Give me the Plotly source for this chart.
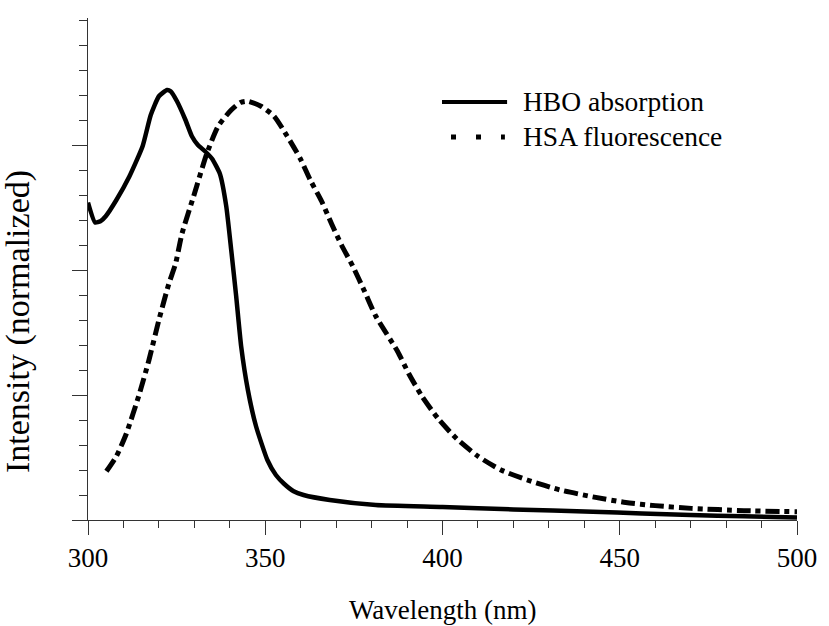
import plotly.graph_objects as go

# HBO absorption (solid)
hbo_wl = [300, 302, 303.5, 305, 308, 311.7, 315.4, 317.7, 320, 322.3, 323.3, 325.1, 327.5,
          329.3, 331, 333, 335, 337.2, 339, 340.4, 341.8, 343.2, 345.1, 347.4, 350.6, 353,
          355.3, 358, 360.8, 368.2, 381.2, 400, 420, 442.4, 456.3, 470, 485, 500]
hbo_int = [2.54, 2.38, 2.39, 2.43, 2.56, 2.75, 2.99, 3.24, 3.39, 3.44, 3.43, 3.35, 3.20,
           3.07, 3.00, 2.95, 2.89, 2.77, 2.51, 2.16, 1.79, 1.39, 1.04, 0.75, 0.48, 0.36,
           0.29, 0.23, 0.20, 0.16, 0.12, 0.105, 0.085, 0.066, 0.053, 0.04, 0.03, 0.02]

# HSA fluorescence (dash-dot)
hsa_wl = [305.2, 308, 310.8, 314.5, 317.2, 320, 322.8, 324.7, 326.5, 329.8, 333.5, 336.7,
          340.4, 343, 345.1, 348.8, 352.5, 356.2, 359.9, 362.7, 365.9, 368.7, 371.5, 374.7,
          378, 381.2, 387.3, 390.5, 394.2, 398.8, 404, 410, 416.5, 423.9, 433.2, 442.4,
          451.7, 460, 470.2, 485, 500]
hsa_int = [0.39, 0.51, 0.69, 1.01, 1.28, 1.60, 1.89, 2.05, 2.29, 2.59, 2.93, 3.15,
           3.28, 3.34, 3.35, 3.31, 3.23, 3.07, 2.89, 2.72, 2.55, 2.37, 2.20, 2.03,
           1.83, 1.63, 1.35, 1.17, 0.99, 0.81, 0.65, 0.51, 0.40, 0.32, 0.24, 0.185,
           0.14, 0.115, 0.093, 0.075, 0.066]

x_ticks = [300, 350, 400, 450, 500]
x_tick_labels = ["300", "350", "400", "450", "500"]
legend_labels = ["HBO absorption", "HSA fluorescence"]

FONT = "Times New Roman, Liberation Serif, DejaVu Serif, serif"

fig = go.Figure()
fig.add_trace(go.Scatter(x=hbo_wl, y=hbo_int, mode="lines", name=legend_labels[0],
                         line=dict(color="black", width=4.5, shape="spline", smoothing=0.5),
                         showlegend=False))
fig.add_trace(go.Scatter(x=hsa_wl, y=hsa_int, mode="lines", name=legend_labels[1],
                         line=dict(color="black", width=5, dash="14px,5px,5px,5px",
                                   shape="spline", smoothing=0.6),
                         showlegend=False))

# manual legend (paper coordinates)
fig.add_shape(type="line", xref="paper", yref="paper", x0=0.4993, x1=0.5911, y0=0.8327, y1=0.8327,
              line=dict(color="black", width=4))
fig.add_shape(type="line", xref="paper", yref="paper", x0=0.512, x1=0.588, y0=0.763, y1=0.763,
              line=dict(color="black", width=5, dash="5px,20px"))
fig.add_annotation(text=legend_labels[0], xref="paper", yref="paper", x=0.6106, y=0.8327,
                   xanchor="left", yanchor="middle", showarrow=False,
                   font=dict(family=FONT, size=27.5, color="black"))
fig.add_annotation(text=legend_labels[1], xref="paper", yref="paper", x=0.6106, y=0.763,
                   xanchor="left", yanchor="middle", showarrow=False,
                   font=dict(family=FONT, size=27.5, color="black"))

# axis titles as annotations
fig.add_annotation(text="Wavelength (nm)", xref="paper", yref="paper", x=0.5, y=-0.18,
                   xanchor="center", yanchor="middle", showarrow=False,
                   font=dict(family=FONT, size=27, color="black"))
fig.add_annotation(text="Intensity (normalized)", xref="paper", yref="paper", x=-0.099, y=0.396,
                   xanchor="center", yanchor="middle", showarrow=False, textangle=-90,
                   font=dict(family=FONT, size=34, color="black"))

fig.update_xaxes(range=[300, 500], tickmode="array", tickvals=x_ticks, ticktext=x_tick_labels,
                 ticks="outside", ticklen=14, tickwidth=1, tickcolor="#333",
                 showline=True, linecolor="#333", linewidth=1, showgrid=False, zeroline=False,
                 tickfont=dict(family=FONT, size=27, color="black"),
                 minor=dict(tickmode="linear", tick0=300, dtick=10, ticks="outside",
                            ticklen=7, tickwidth=1, tickcolor="#333", showgrid=False))
fig.update_yaxes(range=[0, 4.016], tickmode="array", tickvals=[0, 1, 2, 3], showticklabels=False,
                 ticks="outside", ticklen=15, tickwidth=1, tickcolor="#333",
                 showline=True, linecolor="#333", linewidth=1, showgrid=False, zeroline=False,
                 minor=dict(tickmode="linear", tick0=0, dtick=0.2, ticks="outside",
                            ticklen=8, tickwidth=1, tickcolor="#333", showgrid=False))

fig.update_layout(width=829, height=626, margin=dict(l=88, r=22, t=18, b=106),
                  plot_bgcolor="white", paper_bgcolor="white",
                  font=dict(family=FONT, color="black"))

fig.write_html("out.html")
